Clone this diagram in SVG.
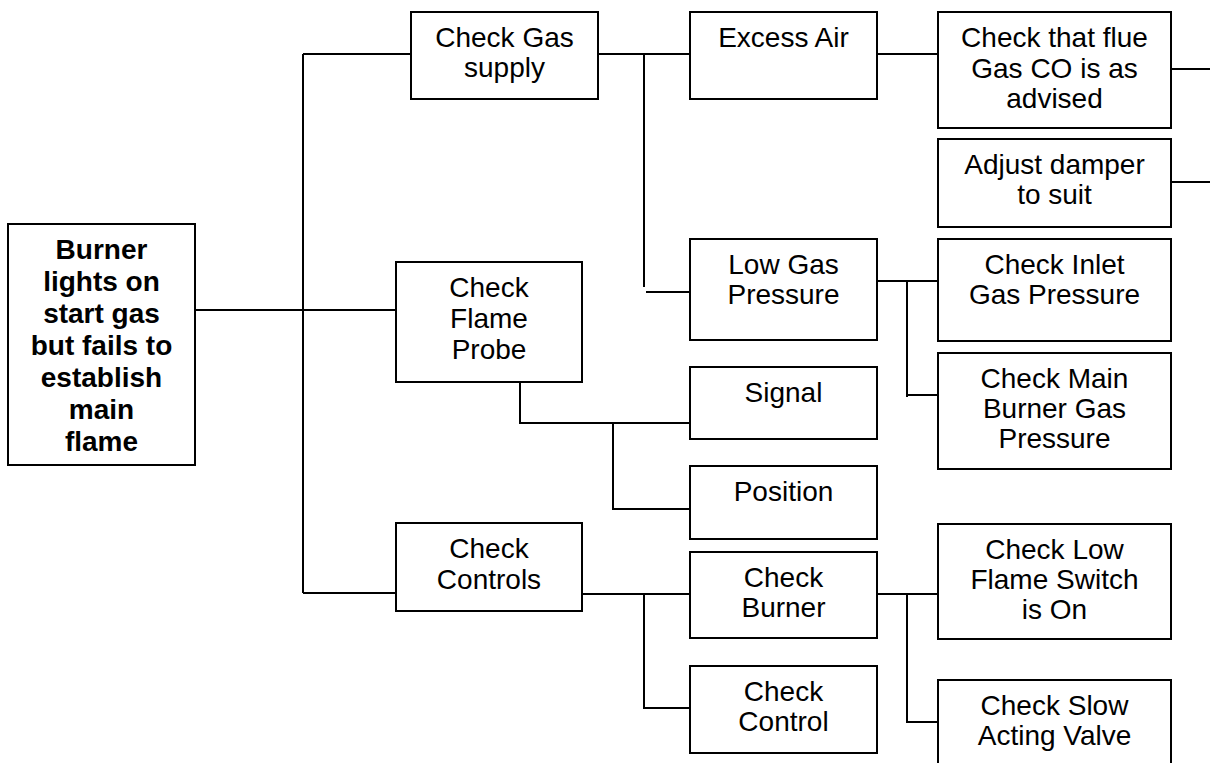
<svg xmlns="http://www.w3.org/2000/svg" width="1210" height="763" viewBox="0 0 1210 763">
<style>
.box{fill:#fff;stroke:#000;stroke-width:2}
.t{font-family:"Liberation Sans",Arial,sans-serif;font-size:28px;fill:#000;text-anchor:middle}
.b{font-weight:bold}
.c{fill:none;stroke:#000;stroke-width:2}
</style>
<rect width="1210" height="763" fill="#fff"/>
<g id="connectors" class="c">
<path d="M195 310H396"/>
<path d="M303 54V593M303 54H411M303 593H396"/>
<path d="M598 54H690M644 54V287M646 292H692"/>
<path d="M877 54H938"/>
<path d="M1171 69H1210M1171 182H1210"/>
<path d="M877 281H938M907 281V397M907 395H938"/>
<path d="M520 381V424M520 423H690M613 423V510M613 509H690"/>
<path d="M582 594H690M644 594V709M644 708H690"/>
<path d="M877 594H938M907 594V723M907 722H938"/>
</g>
<g id="root"><rect class="box" x="8" y="224" width="187" height="241"/>
<text class="t b" x="101.5"><tspan x="101.5" y="259">Burner</tspan><tspan x="101.5" y="291">lights on</tspan><tspan x="101.5" y="323">start gas</tspan><tspan x="101.5" y="355">but fails to</tspan><tspan x="101.5" y="387">establish</tspan><tspan x="101.5" y="419">main</tspan><tspan x="101.5" y="451">flame</tspan></text></g>
<g id="checkGas"><rect class="box" x="411" y="12" width="187" height="87"/>
<text class="t"><tspan x="504.5" y="47">Check Gas</tspan><tspan x="504.5" y="77">supply</tspan></text></g>
<g id="flameProbe"><rect class="box" x="396" y="262" width="186" height="120"/>
<text class="t"><tspan x="489" y="297">Check</tspan><tspan x="489" y="328">Flame</tspan><tspan x="489" y="359">Probe</tspan></text></g>
<g id="checkControls"><rect class="box" x="396" y="523" width="186" height="88"/>
<text class="t"><tspan x="489" y="558">Check</tspan><tspan x="489" y="589">Controls</tspan></text></g>
<g id="excessAir"><rect class="box" x="690" y="12" width="187" height="87"/>
<text class="t"><tspan x="783.5" y="47">Excess Air</tspan></text></g>
<g id="lowGas"><rect class="box" x="690" y="239" width="187" height="101"/>
<text class="t"><tspan x="783.5" y="274">Low Gas</tspan><tspan x="783.5" y="304">Pressure</tspan></text></g>
<g id="signal"><rect class="box" x="690" y="367" width="187" height="72"/>
<text class="t"><tspan x="783.5" y="402">Signal</tspan></text></g>
<g id="position"><rect class="box" x="690" y="466" width="187" height="73"/>
<text class="t"><tspan x="783.5" y="501">Position</tspan></text></g>
<g id="checkBurner"><rect class="box" x="690" y="552" width="187" height="86"/>
<text class="t"><tspan x="783.5" y="587">Check</tspan><tspan x="783.5" y="617">Burner</tspan></text></g>
<g id="checkControl"><rect class="box" x="690" y="666" width="187" height="87"/>
<text class="t"><tspan x="783.5" y="701">Check</tspan><tspan x="783.5" y="731">Control</tspan></text></g>
<g id="flueGas"><rect class="box" x="938" y="12" width="233" height="116"/>
<text class="t"><tspan x="1054.5" y="47">Check that flue</tspan><tspan x="1054.5" y="77.5">Gas CO is as</tspan><tspan x="1054.5" y="108">advised</tspan></text></g>
<g id="damper"><rect class="box" x="938" y="139" width="233" height="88"/>
<text class="t"><tspan x="1054.5" y="174">Adjust damper</tspan><tspan x="1054.5" y="204">to suit</tspan></text></g>
<g id="inlet"><rect class="box" x="938" y="239" width="233" height="102"/>
<text class="t"><tspan x="1054.5" y="274">Check Inlet</tspan><tspan x="1054.5" y="304">Gas Pressure</tspan></text></g>
<g id="mainBurner"><rect class="box" x="938" y="353" width="233" height="116"/>
<text class="t"><tspan x="1054.5" y="388">Check Main</tspan><tspan x="1054.5" y="418">Burner Gas</tspan><tspan x="1054.5" y="448">Pressure</tspan></text></g>
<g id="lowFlame"><rect class="box" x="938" y="524" width="233" height="115"/>
<text class="t"><tspan x="1054.5" y="559">Check Low</tspan><tspan x="1054.5" y="589">Flame Switch</tspan><tspan x="1054.5" y="619">is On</tspan></text></g>
<g id="slowValve"><rect class="box" x="938" y="680" width="233" height="100"/>
<text class="t"><tspan x="1054.5" y="715">Check Slow</tspan><tspan x="1054.5" y="745">Acting Valve</tspan></text></g>
</svg>
